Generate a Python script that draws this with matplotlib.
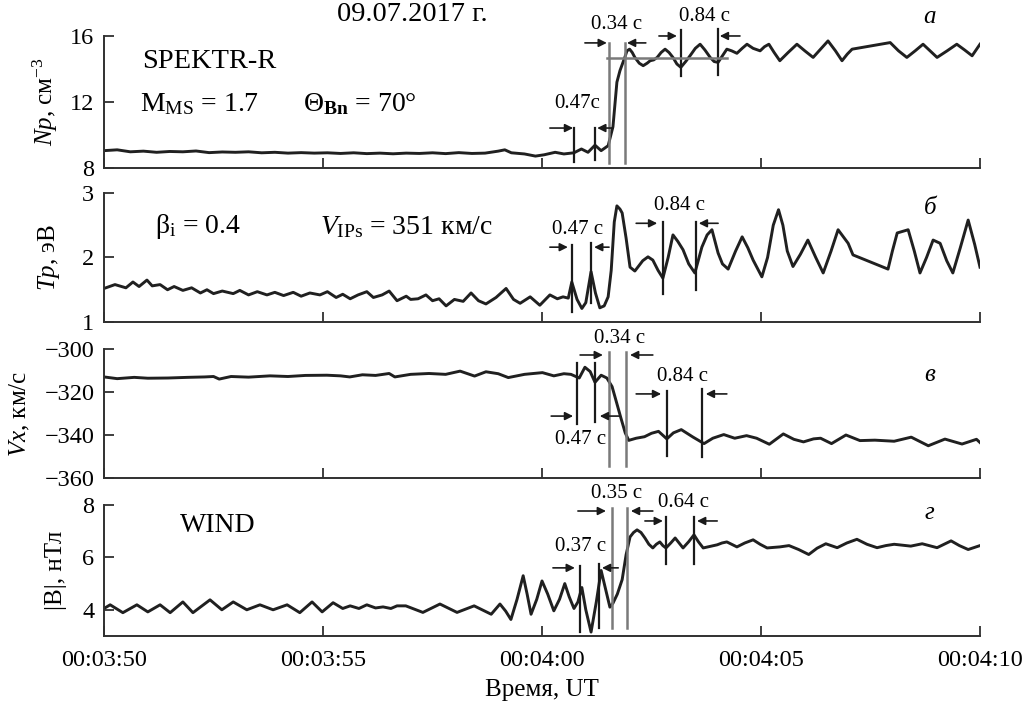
import matplotlib.pyplot as plt

plt.rcParams['font.family'] = ['Liberation Serif', 'DejaVu Serif']
plt.rcParams['mathtext.fontset'] = 'custom'
plt.rcParams['mathtext.rm'] = 'Liberation Serif'
plt.rcParams['mathtext.it'] = 'Liberation Serif:italic'
plt.rcParams['mathtext.bf'] = 'Liberation Serif:bold'

# time in seconds after 00:03:50 UT
xticks = [0, 5, 10, 15, 20]
xticklabels = ['00:03:50', '00:03:55', '00:04:00', '00:04:05', '00:04:10']

# panel a: proton density
np_t = [0.0, 0.3, 0.6, 0.9, 1.2, 1.5, 1.8, 2.1, 2.4, 2.7, 3.0, 3.3, 3.6, 3.9, 4.2, 4.5,
        4.8, 5.1, 5.4, 5.7, 6.0, 6.3, 6.6, 6.9, 7.2, 7.5, 7.8, 8.1, 8.4, 8.7, 9.0, 9.15,
        9.3, 9.6, 9.85, 10.05, 10.3, 10.5, 10.73, 10.9, 11.05, 11.21, 11.35, 11.51,
        11.62, 11.71, 11.78, 11.89, 11.94, 12.0, 12.06, 12.12, 12.22, 12.31, 12.4, 12.47,
        12.55, 12.63, 12.72, 12.81, 12.9, 12.99, 13.08, 13.17, 13.28, 13.38, 13.5, 13.61,
        13.72, 13.84, 13.93, 14.02, 14.12, 14.22, 14.33, 14.45, 14.57, 14.68, 14.82,
        14.98, 15.08, 15.18, 15.3, 15.43, 15.62, 15.82, 16.0, 16.19, 16.36, 16.53, 16.7,
        16.85, 16.97, 17.08, 17.95, 18.14, 18.33, 18.52, 18.70, 18.86, 19.02, 19.25,
        19.47, 19.65, 19.82, 20.0]
np_v = [9.05, 9.1, 8.98, 9.02, 8.95, 9.0, 8.98, 9.03, 8.93, 8.97, 8.95, 8.98, 8.92, 8.95,
        8.9, 8.93, 8.9, 8.92, 8.88, 8.92, 8.87, 8.9, 8.86, 8.9, 8.88, 8.92, 8.87, 8.93,
        8.88, 8.9, 9.02, 9.1, 8.92, 8.85, 8.72, 8.8, 8.95, 8.85, 8.92, 9.15, 8.95, 9.38,
        9.05, 9.35, 10.5, 13.2, 13.9, 14.7, 15.1, 15.2, 15.0, 14.7, 14.35, 14.2, 14.35,
        14.5, 14.55, 14.7, 15.0, 15.2, 15.0, 14.7, 14.3, 14.1, 14.45, 14.8, 15.25, 15.5,
        15.15, 14.7, 14.45, 14.4, 14.8, 15.2, 15.1, 14.95, 15.25, 15.5, 15.25, 15.1,
        15.35, 15.5, 15.0, 14.5, 15.0, 15.5, 15.1, 14.7, 15.2, 15.7, 15.1, 14.5, 14.9,
        15.2, 15.6, 15.1, 14.7, 15.1, 15.5, 15.1, 14.7, 15.1, 15.5, 15.15, 14.8, 15.5]

# panel b: proton temperature
tp_t = [0.0, 0.25, 0.5, 0.66, 0.8, 0.98, 1.1, 1.28, 1.45, 1.6, 1.8, 2.0, 2.2, 2.35, 2.5,
        2.7, 2.95, 3.1, 3.3, 3.5, 3.72, 3.9, 4.1, 4.32, 4.5, 4.7, 4.93, 5.1, 5.3, 5.45,
        5.62, 5.8, 6.0, 6.15, 6.35, 6.51, 6.69, 6.9, 7.0, 7.17, 7.35, 7.5, 7.65, 7.81,
        8.0, 8.2, 8.38, 8.55, 8.72, 8.95, 9.18, 9.35, 9.5, 9.73, 9.95, 10.18, 10.35,
        10.48, 10.6, 10.68, 10.8, 10.91, 11.0, 11.12, 11.22, 11.32, 11.42, 11.51, 11.58,
        11.65, 11.71, 11.78, 11.83, 11.92, 12.01, 12.12, 12.3, 12.42, 12.53, 12.65,
        12.76, 12.88, 12.99, 13.1, 13.22, 13.35, 13.49, 13.65, 13.77, 13.88, 14.02,
        14.12, 14.25, 14.42, 14.57, 14.7, 14.82, 15.02, 15.15, 15.28, 15.4, 15.5, 15.6,
        15.73, 15.9, 16.07, 16.25, 16.42, 16.6, 16.76, 16.88, 16.99, 17.10, 17.90, 18.0,
        18.11, 18.36, 18.5, 18.63, 18.78, 18.93, 19.09, 19.24, 19.38, 19.55, 19.73,
        19.88, 20.0]
tp_v = [1.52, 1.58, 1.53, 1.62, 1.55, 1.65, 1.56, 1.58, 1.5, 1.55, 1.49, 1.53, 1.45,
        1.5, 1.44, 1.48, 1.44, 1.49, 1.42, 1.47, 1.42, 1.46, 1.41, 1.46, 1.4, 1.45, 1.42,
        1.47, 1.38, 1.43, 1.36, 1.42, 1.47, 1.38, 1.42, 1.48, 1.33, 1.4, 1.35, 1.36,
        1.42, 1.33, 1.36, 1.25, 1.35, 1.32, 1.45, 1.33, 1.28, 1.38, 1.52, 1.35, 1.29,
        1.39, 1.26, 1.42, 1.36, 1.39, 1.37, 1.62, 1.35, 1.21, 1.3, 1.78, 1.45, 1.22,
        1.25, 1.39, 1.8, 2.55, 2.8, 2.75, 2.69, 2.3, 1.85, 1.79, 1.95, 2.01, 1.96, 1.8,
        1.68, 2.0, 2.35, 2.25, 2.12, 1.9, 1.76, 2.16, 2.35, 2.43, 2.07, 1.9, 1.82, 2.1,
        2.32, 2.15, 1.96, 1.7, 2.0, 2.5, 2.74, 2.5, 2.1, 1.86, 2.05, 2.27, 2.0, 1.76,
        2.1, 2.43, 2.32, 2.22, 2.04, 1.82, 2.1, 2.38, 2.43, 2.1, 1.76, 2.0, 2.27, 2.22,
        1.95, 1.76, 2.15, 2.58, 2.2, 1.85]

# panel c: Vx
vx_t = [0.0, 0.3, 0.69, 1.0, 1.46, 1.9, 2.3, 2.5, 2.63, 2.9, 3.3, 3.79, 4.2, 4.6, 5.09,
        5.4, 5.61, 5.9, 6.2, 6.51, 6.64, 7.0, 7.42, 7.8, 8.13, 8.46, 8.72, 9.0, 9.23,
        9.6, 10.01, 10.27, 10.5, 10.66, 10.85, 10.98, 11.1, 11.21, 11.35, 11.48, 11.6,
        11.69, 11.8, 11.9, 11.98, 12.15, 12.34, 12.5, 12.66, 12.85, 13.0, 13.18, 13.45,
        13.7, 13.9, 14.15, 14.4, 14.67, 14.9, 15.19, 15.51, 15.75, 15.97, 16.2, 16.36,
        16.61, 16.94, 17.26, 17.6, 18.04, 18.43, 18.82, 19.2, 19.59, 19.92, 20.0]
vx_v = [-313.0, -313.8, -313.2, -313.6, -313.5, -313.2, -313.0, -312.8, -314.0, -312.8,
        -313.1, -312.5, -312.8, -312.3, -312.2, -312.5, -313.0, -312.0, -312.3, -311.4,
        -313.0, -311.8, -311.4, -311.8, -310.3, -312.6, -310.6, -311.5, -313.3, -311.8,
        -311.0, -312.5, -311.5, -311.8, -313.5, -308.5, -310.5, -315.5, -312.2, -313.5,
        -317.5, -324.0, -332.0, -339.0, -342.5, -341.5, -340.8, -339.2, -338.3, -341.8,
        -339.0, -337.5, -341.0, -344.0, -341.5, -339.8, -341.5, -340.3, -341.5, -344.3,
        -339.5, -342.0, -343.2, -341.8, -341.5, -344.0, -340.0, -342.6, -342.4, -342.9,
        -341.0, -345.0, -341.9, -344.2, -342.0, -343.5]

# panel d: |B| (WIND)
b_t = [0.0, 0.14, 0.43, 0.75, 1.0, 1.28, 1.51, 1.8, 2.03, 2.42, 2.69, 2.95, 3.26, 3.56,
       3.86, 4.18, 4.47, 4.75, 4.98, 5.23, 5.45, 5.62, 5.82, 6.0, 6.2, 6.37, 6.55, 6.69,
       6.89, 7.28, 7.67, 8.06, 8.45, 8.84, 9.04, 9.17, 9.29, 9.43, 9.57, 9.66, 9.75,
       9.88, 10.0, 10.13, 10.27, 10.4, 10.52, 10.62, 10.73, 10.82, 10.91, 11.0, 11.12,
       11.24, 11.35, 11.45, 11.55, 11.62, 11.72, 11.83, 11.92, 12.01, 12.09, 12.17,
       12.26, 12.35, 12.44, 12.53, 12.61, 12.69, 12.76, 12.83, 12.94, 13.04, 13.13,
       13.22, 13.35, 13.47, 13.57, 13.68, 13.84, 14.0, 14.11, 14.22, 14.33, 14.45,
       14.63, 14.82, 14.98, 15.14, 15.28, 15.43, 15.64, 15.86, 16.09, 16.28, 16.48,
       16.74, 16.96, 17.19, 17.42, 17.65, 17.85, 18.04, 18.42, 18.68, 19.02, 19.18,
       19.34, 19.53, 19.73, 20.0]
b_v = [4.05, 4.19, 3.89, 4.19, 3.92, 4.19, 3.89, 4.3, 3.89, 4.38, 4.0, 4.3, 4.0, 4.19,
       4.0, 4.19, 3.89, 4.3, 3.92, 4.27, 4.05, 4.15, 4.05, 4.19, 4.07, 4.11, 4.05, 4.15,
       4.15, 3.9, 4.22, 3.9, 4.15, 3.83, 4.22, 3.95, 3.63, 4.4, 5.3, 4.6, 3.83, 4.4,
       5.1, 4.6, 3.96, 4.4, 5.0, 4.5, 4.05, 4.3, 4.85, 4.0, 3.15, 4.3, 5.5, 4.8, 4.1,
       4.25, 4.6, 5.15, 6.1, 6.78, 6.95, 7.05, 6.95, 6.74, 6.5, 6.36, 6.5, 6.59, 6.45,
       6.36, 6.55, 6.74, 6.55, 6.36, 6.6, 6.86, 6.6, 6.36, 6.42, 6.48, 6.55, 6.59, 6.5,
       6.4, 6.55, 6.67, 6.5, 6.36, 6.38, 6.4, 6.45, 6.3, 6.11, 6.35, 6.52, 6.37, 6.55,
       6.69, 6.5, 6.37, 6.45, 6.5, 6.43, 6.52, 6.37, 6.5, 6.63, 6.45, 6.3, 6.45]

# timing marks: (time, y_bottom, y_top)
np_black = [(10.73, 8.36, 10.42), (11.21, 8.48, 10.42), (13.17, 13.58, 16.36), (14.02, 13.64, 16.42)]
np_gray = [(11.53, 8.3, 15.58), (11.89, 8.3, 15.58)]
tp_black = [(10.68, 1.16, 2.19), (11.12, 1.29, 2.22), (12.76, 1.43, 2.55), (13.52, 1.50, 2.55)]
tp_gray = []
vx_black = [(10.80, -334.9, -306.5), (11.21, -334.0, -306.5), (12.85, -349.8, -319.5), (13.65, -350.2, -318.6)]
vx_gray = [(11.53, -354.4, -301.4), (11.92, -354.4, -301.4)]
b_black = [(10.87, 3.16, 5.68), (11.30, 3.31, 5.75), (12.83, 5.75, 7.54), (13.47, 5.75, 7.54)]
b_gray = [(11.60, 3.31, 7.89), (11.94, 3.31, 7.89)]

# arrows: (t_from, t_to, y), labels: (t, y, text)
np_arrows = [(10.18, 10.71, 10.42), (11.62, 11.26, 10.42), (10.98, 11.48, 15.58),
             (12.37, 11.94, 15.58), (12.67, 13.08, 16.0), (14.52, 14.06, 16.0)]
np_labels = [(10.80, 11.88, '0.47c'), (11.71, 16.67, '0.34 с'), (13.72, 17.15, '0.84 с')]
tp_arrows = [(10.18, 10.59, 2.16), (11.53, 11.19, 2.16), (12.15, 12.63, 2.53), (14.02, 13.58, 2.53)]
tp_labels = [(10.82, 2.44, '0.47 с'), (13.15, 2.81, '0.84 с')]
vx_arrows = [(10.21, 10.71, -331.2), (11.76, 11.32, -331.2), (10.87, 11.39, -302.8),
             (12.53, 12.01, -302.8), (12.15, 12.72, -320.9), (14.22, 13.74, -320.9)]
vx_labels = [(10.87, -341.9, '0.47 с'), (11.78, -294.9, '0.34 с'), (13.20, -312.6, '0.84 с')]
b_arrows = [(10.25, 10.75, 5.60), (11.74, 11.37, 5.60), (10.82, 11.46, 7.77),
            (12.53, 12.03, 7.77), (12.35, 12.76, 7.39), (14.0, 13.54, 7.39)]
b_labels = [(10.87, 6.40, '0.37 с'), (11.71, 8.42, '0.35 с'), (13.22, 8.08, '0.64 с')]

fig = plt.figure(figsize=(10.32, 7.04), dpi=100)

panels = [
    ([0.1008, 0.7614, 0.8488, 0.1875], np_t, np_v, (8, 16), [8, 12, 16], r'$Np$, см$^{-3}$',
     -0.050, np_black, np_gray, np_arrows, np_labels),
    ([0.1008, 0.5426, 0.8488, 0.1833], tp_t, tp_v, (1, 3), [1, 2, 3], r'$Tp$, эВ',
     -0.048, tp_black, tp_gray, tp_arrows, tp_labels),
    ([0.1008, 0.3210, 0.8488, 0.1833], vx_t, vx_v, (-360, -300), [-360, -340, -320, -300],
     r'$Vx$, км/с', -0.082, vx_black, vx_gray, vx_arrows, vx_labels),
    ([0.1008, 0.0966, 0.8488, 0.1861], b_t, b_v, (3, 8), [4, 6, 8], '|B|, нТл',
     -0.042, b_black, b_gray, b_arrows, b_labels),
]

axes = []
for rect, t, v, ylim, yt, ylab, labx, blk, gry, arrs, labs in panels:
    ax = fig.add_axes(rect)
    ax.plot(t, v, color='#202020', lw=2.1, solid_joinstyle='round')
    ax.set_xlim(0, 20)
    ax.set_ylim(*ylim)
    ax.set_yticks(yt)
    ax.set_xticks(xticks)
    ax.set_xticklabels([])
    for s in ['top', 'right']:
        ax.spines[s].set_visible(False)
    for s in ['left', 'bottom']:
        ax.spines[s].set_linewidth(1.4)
        ax.spines[s].set_color('#303030')
    ax.tick_params(direction='in', length=7, width=1.3, labelsize=17.5, color='#303030')
    ax.tick_params(axis='y', pad=7)
    ax.set_ylabel(ylab, fontsize=18)
    ax.yaxis.set_label_coords(labx, 0.5)
    for x0, y0, y1 in gry:
        ax.plot([x0, x0], [y0, y1], color='#7a7a7a', lw=1.8, clip_on=False)
    for x0, y0, y1 in blk:
        ax.plot([x0, x0], [y0, y1], color='#1a1a1a', lw=1.6, clip_on=False)
    for x0, x1, y in arrs:
        ax.annotate('', xy=(x1, y), xytext=(x0, y), annotation_clip=False,
                    arrowprops=dict(arrowstyle='-|>', color='#1a1a1a', lw=1.2,
                                    mutation_scale=12, shrinkA=0, shrinkB=0))
    for x, y, s in labs:
        ax.text(x, y, s, ha='center', va='center', fontsize=15, clip_on=False)
    axes.append(ax)

# gray level line in density panel
axes[0].plot([11.48, 14.22], [14.67, 14.67], color='#7a7a7a', lw=1.8)

axes[-1].set_xticklabels(xticklabels)
axes[-1].tick_params(axis='x', pad=10)
axes[-1].set_xlabel('Время, UT', fontsize=18, labelpad=6)

fig.text(0.400, 0.980, '09.07.2017 г.', ha='center', va='center', fontsize=20.5)
fig.text(0.1376, 0.912, 'SPEKTR-R', ha='left', va='center', fontsize=20.5)
fig.text(0.1357, 0.852, r'M$_{\mathrm{MS}}$ = 1.7', ha='left', va='center', fontsize=20)
fig.text(0.2936, 0.852, r'Θ$_{\mathbf{Bn}}$ = 70°', ha='left', va='center', fontsize=20)
fig.text(0.150, 0.678, r'β$_{\mathrm{i}}$ = 0.4', ha='left', va='center', fontsize=20)
fig.text(0.310, 0.678, r'$V_{\mathrm{IPs}}$ = 351 км/с', ha='left', va='center', fontsize=20)
fig.text(0.174, 0.254, 'WIND', ha='left', va='center', fontsize=20)

panel_letters = ['а', 'б', 'в', 'г']
letter_y = [0.976, 0.705, 0.467, 0.271]
for s, y in zip(panel_letters, letter_y):
    fig.text(0.901, y, s, ha='center', va='center', fontsize=18, style='italic')

fig.savefig('out.png', dpi=100)
